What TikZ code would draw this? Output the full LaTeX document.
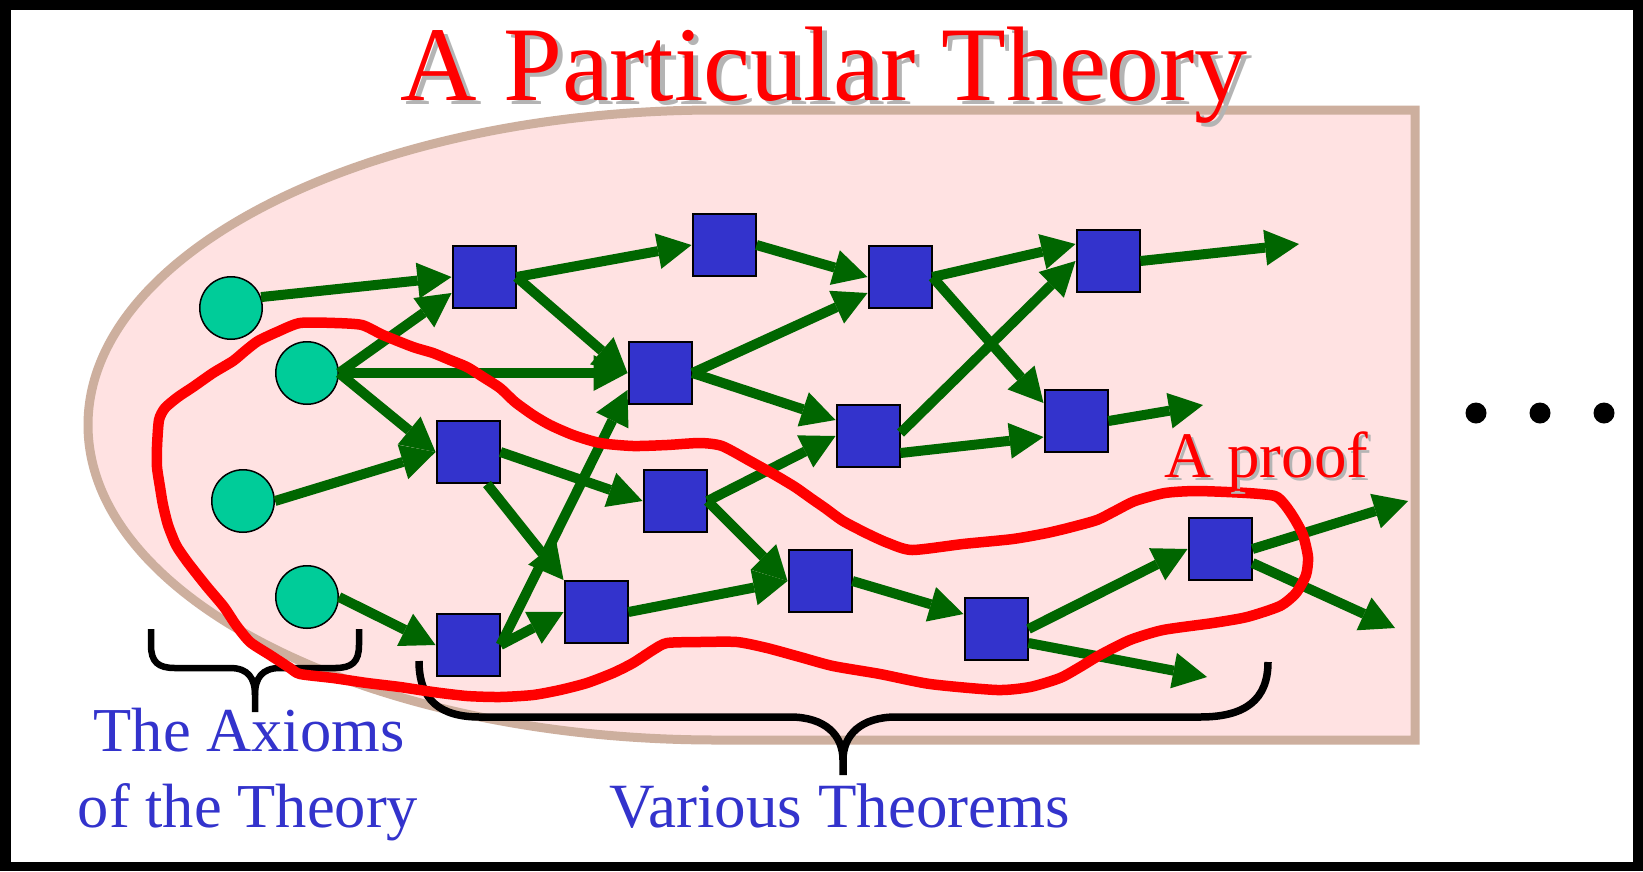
\documentclass[tikz,border=0pt]{standalone}
\usepackage{fontspec}
\setmainfont{Liberation Serif}
\usetikzlibrary{arrows.meta,calc}
\definecolor{arrgreen}{RGB}{0,102,0}
\definecolor{thmblue}{RGB}{51,51,204}
\definecolor{axteal}{RGB}{0,204,153}
\definecolor{regfill}{RGB}{255,226,226}
\definecolor{regedge}{RGB}{205,175,158}
\definecolor{shadowgray}{RGB}{180,180,180}
\definecolor{proofred}{RGB}{255,0,0}
\begin{document}
\begin{tikzpicture}[x=1pt,y=-1pt,
  axiom/.style={circle, fill=axteal, draw=black, line width=1.5pt, minimum size=62.5pt, inner sep=0pt},
  thm/.style={rectangle, fill=thmblue, draw=black, line width=2pt, minimum width=63pt, minimum height=62pt, inner sep=0pt},
  arr/.style={draw=arrgreen, line width=10pt, -{Triangle[length=34pt,width=36pt,line width=0pt]}},
  bracestyle/.style={draw=black, line width=#1},
  prooflinestyle/.style={draw=proofred, line width=10.5pt, line join=round},
  bigtitle/.style={font=\fontsize{106}{120}\selectfont, inner sep=0pt, anchor=base west},
  prooftext/.style={font=\fontsize{65}{75}\selectfont, inner sep=0pt, anchor=base west},
  lbltext/.style={font=\fontsize{62.5}{72}\selectfont, inner sep=0pt, anchor=base, text=thmblue},
  dotn/.style={circle, fill=black, minimum size=21pt, inner sep=0pt}
]
\useasboundingbox (0,0) rectangle (1643,871);
% frame
\fill[black] (0,0) rectangle (1643,871);
\fill[white] (11,10) rectangle (1633,862);
% theory region
\path[fill=regfill, draw=regedge, line width=9pt]
  (1415,110) -- (717,110) arc[start angle=90, end angle=270, x radius=629pt, y radius=315pt]
  -- (1415,740) -- cycle;

% axioms
\node[axiom] (C1) at (231,308) {};
\node[axiom] (C2) at (307,373) {};
\node[axiom] (C3) at (243,501) {};
\node[axiom] (C4) at (307,597) {};
% theorems
\node[thm] (S1) at (484,277) {};
\node[thm] (S2) at (724,245) {};
\node[thm] (S3) at (900,277) {};
\node[thm] (S4) at (1108,261) {};
\node[thm] (S5) at (660,373) {};
\node[thm] (S6) at (868,436) {};
\node[thm] (S7) at (1076,421) {};
\node[thm] (S8) at (468,452) {};
\node[thm] (S9) at (675,501) {};
\node[thm] (S10) at (820,581) {};
\node[thm] (S11) at (596,612) {};
\node[thm] (S12) at (468,645) {};
\node[thm] (S13) at (996,629) {};
\node[thm] (S14) at (1220,549) {};
% free arrow ends
\coordinate (F1) at (1299,244);
\coordinate (F2) at (1203,405);
\coordinate (F3) at (1207,677);
\coordinate (F4) at (1408,501);
\coordinate (F5) at (1395,628);

% arrows
\draw[arr] (C1.20) -- (S1.west);
\draw[arr] (C2.east) -- ($(S1.west)+(0,16)$);
\draw[arr] (C2.east) -- (S5.west);
\draw[arr] (C2.east) -- (S8.west);
\draw[arr] (C3.east) -- (S8.west);
\draw[arr] (C4.east) -- (S12.west);
\draw[arr] (S1.east) -- (S2.west);
\draw[arr] (S1.east) -- (S5.west);
\draw[arr] (S2.east) -- (S3.west);
\draw[arr] (S5.east) -- ($(S3.west)+(0,16)$);
\draw[arr] (S5.east) -- ($(S6.west)+(0,-16)$);
\draw[arr] (S3.east) -- ($(S4.west)+(0,-17)$);
\draw[arr] (S3.east) -- ($(S7.west)+(0,-18)$);
\draw[arr] ($(S6.east)+(0,-3)$) -- (S4.west);
\draw[arr] ($(S6.east)+(0,17)$) -- ($(S7.west)+(0,16)$);
\draw[arr] (S4.east) -- (F1);
\draw[arr] (S7.east) -- (F2);
\draw[arr] (S8.east) -- (S9.west);
\draw[arr] ($(S8.south)+(19,0)$) -- (S11.north west);
\draw[arr] (S12.east) -- ($(S5.west)+(0,17)$);
\draw[arr] (S12.east) -- (S11.west);
\draw[arr] (S9.east) -- (S6.west);
\draw[arr] (S9.east) -- (S10.west);
\draw[arr] (S11.east) -- (S10.west);
\draw[arr] (S10.east) -- ($(S13.west)+(0,-15)$);
\draw[arr] (S13.east) -- (S14.west);
\draw[arr] ($(S13.east)+(0,14)$) -- (F3);
\draw[arr] (S14.east) -- (F4);
\draw[arr] ($(S14.east)+(0,14)$) -- (F5);

% braces
\draw[bracestyle=6.5pt] (151,629) -- (151,645) .. controls (151,662) and (158,668) .. (175,668)
  -- (230,668) .. controls (248,668) and (255,678) .. (255,695) -- (255,712);
\draw[bracestyle=6.5pt] (255,695) .. controls (255,678) and (262,668) .. (280,668)
  -- (335,668) .. controls (352,668) and (359,662) .. (359,645) -- (359,629);
\draw[bracestyle=7.5pt] (419,661) .. controls (419,700) and (440,717) .. (480,717)
  -- (790,717) .. controls (825,717) and (843,735) .. (843,760) -- (843,775);
\draw[bracestyle=7.5pt] (843,760) .. controls (843,735) and (861,717) .. (896,717)
  -- (1200,717) .. controls (1245,717) and (1268,700) .. (1268,662);

% the proof loop
\draw[prooflinestyle] plot[smooth cycle, tension=0.4] coordinates {
 (300,323) (335,323) (362,325) (383,335) (413,347) (433,353) (450,360) (467,367)
 (483,377) (500,388) (515,402) (533,415) (550,425) (573,435) (600,443) (633,446)
 (667,445) (700,443) (722,446) (750,461) (775,475) (795,487) (812,499) (825,508)
 (843,521) (868,534) (888,543) (912,550) (963,544) (1013,539) (1047,533) (1072,527)
 (1097,520) (1115,511) (1135,501) (1165,493) (1197,491) (1247,493) (1275,496)
 (1285,505) (1294,518) (1303,535) (1308,557) (1306,575) (1296,593) (1280,606)
 (1247,617) (1213,623) (1163,630) (1130,640) (1100,655) (1080,667) (1060,678)
 (1030,687) (997,690) (930,684) (880,674) (833,666) (800,657) (767,648) (737,642)
 (700,642) (667,643) (653,650) (633,663) (613,673) (587,683) (560,690) (533,695)
 (500,697) (467,696) (433,692) (400,687) (367,683) (333,678) (300,674) (290,668)
 (270,655) (250,642) (236,625) (224,607) (208,588) (196,573) (186,560) (176,545)
 (168,525) (163,505) (160,487) (157,467) (157,447) (159,420) (165,408) (178,397)
 (193,387) (213,373) (233,361) (245,351) (258,341) (277,332)};

% texts
\node[bigtitle, text=shadowgray] (titleshadow) at (405,104) {A Particular Theory};
\node[bigtitle, text=proofred] (title) at (400,100) {A Particular Theory};
\node[prooftext, text=shadowgray] (proofshadow) at (1167,480) {A proof};
\node[prooftext, text=proofred] (prooflabel) at (1164,477) {A proof};
\node[lbltext] (ax1) at (249,751) {The Axioms};
\node[lbltext] (ax2) at (248,827) {of the Theory};
\node[lbltext, font=\fontsize{63}{72}\selectfont] (thms) at (840,827) {Various Theorems};

% dots
\node[dotn] (d1) at (1476,413) {};
\node[dotn] (d2) at (1540,413) {};
\node[dotn] (d3) at (1604,413) {};
\end{tikzpicture}
\end{document}
